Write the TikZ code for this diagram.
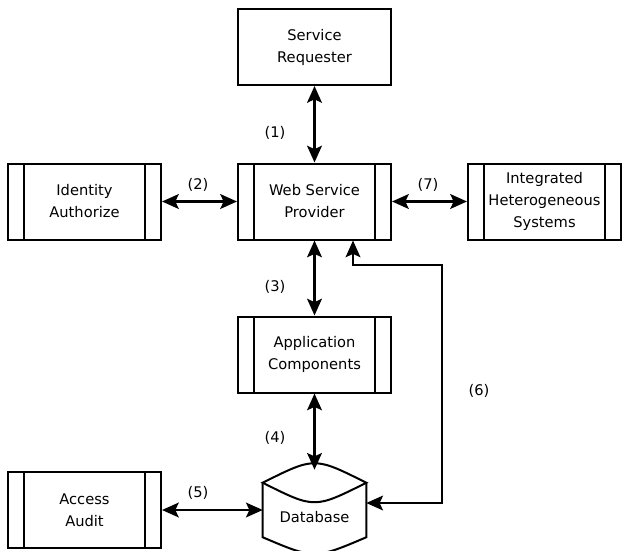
\documentclass[tikz,border=0pt]{standalone}
\usepackage{fontspec}
\setmainfont{DejaVu Sans}
\usetikzlibrary{arrows.meta,calc}

\begin{document}
\begin{tikzpicture}[x=0.75pt,y=-0.75pt,
  font=\fontsize{11}{16.5}\selectfont,
  box/.style={draw,line width=1.5pt,minimum width=114.75pt,minimum height=57pt,align=center},
  sub/.style={box,path picture={
    \draw[line width=1.2pt] ([xshift=12pt]path picture bounding box.north west)--([xshift=12pt]path picture bounding box.south west);
    \draw[line width=1.2pt] ([xshift=-12pt]path picture bounding box.north east)--([xshift=-12pt]path picture bounding box.south east);}},
  dbs/.style={minimum width=77.25pt,minimum height=58.5pt,inner sep=0pt},
  arr/.style={{Stealth[length=12.5pt,width=11pt,inset=2.5pt]}-{Stealth[length=12.5pt,width=11pt,inset=2.5pt]},line width=2pt},
  num/.style={inner sep=1pt}]
\useasboundingbox (0,0) rectangle (627,550);
% boxes
\node[box] (sr) at (314.5,47) {Service\\Requester};
\node[sub] (wsp) at (314.5,201.5) {Web Service\\Provider};
\node[sub] (ia) at (84.5,201.5) {Identity\\Authorize};
\node[sub] (ihs) at (544.5,201.5) {Integrated\\Heterogeneous\\Systems};
\node[sub] (ac) at (314.5,354.5) {Application\\Components};
\node[sub] (aa) at (84.5,510) {Access\\Audit};
% database
\node[dbs,label={[yshift=-6pt]center:Database}] (db) at (314.5,509) {};
\draw[line width=1.5pt] ($(db.north west)+(0,13)$) .. controls ($(db.north)+(0,-13)$) .. ($(db.north east)+(0,13)$)
  .. controls ($(db.north)+(0,39)$) .. cycle;
\draw[line width=1.5pt] ($(db.north west)+(0,13)$) -- ($(db.south west)+(0,-11)$)
  .. controls ($(db.south)+(0,11)$) .. ($(db.south east)+(0,-11)$) -- ($(db.north east)+(0,13)$);
% connectors
\draw[arr] (sr) -- (wsp);
\draw[arr] (ia) -- (wsp);
\draw[arr] (wsp) -- (ihs);
\draw[arr] (wsp) -- (ac);
\draw[arr] (ac) -- (db.north);
\draw[arr] (aa.east) -- (aa.east -| db.west);
\coordinate (turn) at (442,265);
\draw[arr] ($(db.east)+(0,-6)$) -| (turn) -| ($(wsp.south)+(38.5,0)$);
% labels
\node[num] (n1) at (275,133) {(1)};
\node[num] (n2) at (198,185) {(2)};
\node[num] (n7) at (428,185) {(7)};
\node[num] (n3) at (275,287) {(3)};
\node[num] (n4) at (275,438) {(4)};
\node[num] (n5) at (198,493) {(5)};
\node[num] (n6) at (479,391) {(6)};
\end{tikzpicture}
\end{document}
